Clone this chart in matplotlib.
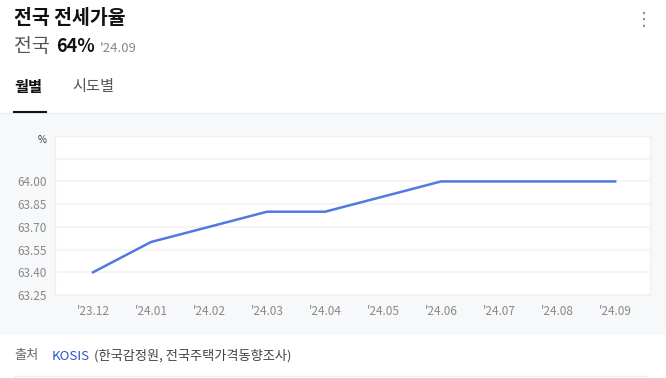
import matplotlib.pyplot as plt
from matplotlib.patches import Rectangle
from matplotlib.lines import Line2D

plt.rcParams['font.family'] = ['Noto Sans CJK KR', 'DejaVu Sans']

# 데이터
months = ["'23.12", "'24.01", "'24.02", "'24.03", "'24.04",
          "'24.05", "'24.06", "'24.07", "'24.08", "'24.09"]
rates = [63.40, 63.60, 63.70, 63.80, 63.80, 63.90, 64.00, 64.00, 64.00, 64.00]
y_ticks = [63.25, 63.40, 63.55, 63.70, 63.85, 64.00, 64.15]
y_labels = ['63.25', '63.40', '63.55', '63.70', '63.85', '64.00', '']

W, H = 666, 378


def px(x, y):
    '''픽셀 좌표 -> figure 좌표'''
    return x / W, 1 - y / H


fig = plt.figure(figsize=(W / 100, H / 100), dpi=100, facecolor='white')

# 회색 배경 패널
fig.patches.append(Rectangle(px(0, 335), 1, (335 - 113) / H, transform=fig.transFigure,
                             facecolor='#f7f8fa', edgecolor='none', zorder=0))
fig.lines.append(Line2D([0, 1], [1 - 113 / H] * 2, transform=fig.transFigure,
                        color='#eceef1', lw=1))

# 헤더
fig.text(*px(14, 18), '전국 전세가율', fontsize=14, fontweight='bold',
         color='#111111', va='center')
fig.text(*px(644, 20), '⋮', fontsize=13, color='#888888', va='center', ha='center',
         family=['DejaVu Sans'])
fig.text(*px(14, 47), '전국', fontsize=14, color='#555555', va='center')
fig.text(*px(56, 47), '64%', fontsize=13, fontweight='bold', color='#111111', va='center')
fig.text(*px(100, 48), "'24.09", fontsize=9.5, color='#888888', va='center')

# 탭
fig.text(*px(14, 87), '월별', fontsize=11, fontweight='bold', color='#111111', va='center')
fig.text(*px(72, 87), '시도별', fontsize=11, color='#555555', va='center')
fig.lines.append(Line2D([14 / W, 46 / W], [1 - 112 / H] * 2, transform=fig.transFigure,
                        color='#111111', lw=1.5))

# 차트
ax = fig.add_axes([55 / W, 1 - 295 / H, (650 - 55) / W, (295 - 136) / H])
ax.set_zorder(2)
ax.set_facecolor('white')
x = list(range(len(months)))
ax.plot(x, rates, color='#5179e0', lw=1.8, solid_joinstyle='miter', zorder=3)
ax.set_xlim(-0.655, 9.6)
ax.set_ylim(63.25, 64.30)
ax.set_yticks(y_ticks)
ax.set_yticklabels(y_labels)
ax.set_xticks(x)
ax.set_xticklabels(months)
ax.grid(axis='y', color='#f4f5f7', lw=1.5)
ax.set_axisbelow(True)
ax.tick_params(length=0, labelsize=8.5, colors='#888888', pad=6)
ax.tick_params(axis='x', pad=7)
for s in ax.spines.values():
    s.set_color('#eef0f2')
    s.set_linewidth(1)
fig.text(*px(42, 140), '%', fontsize=7, color='#333333', va='center', ha='center')

# 출처
fig.text(*px(14, 356), '출처', fontsize=9.5, color='#666666', va='center')
fig.text(*px(52, 356), 'KOSIS', fontsize=9.5, color='#2b55c8', va='center')
fig.text(*px(94, 356), '(한국감정원, 전국주택가격동향조사)', fontsize=9.5,
         color='#444444', va='center')
fig.lines.append(Line2D([14 / W, 646 / W], [1 - 376 / H] * 2, transform=fig.transFigure,
                        color='#eceef1', lw=1))

fig.savefig('out.png', dpi=100)
